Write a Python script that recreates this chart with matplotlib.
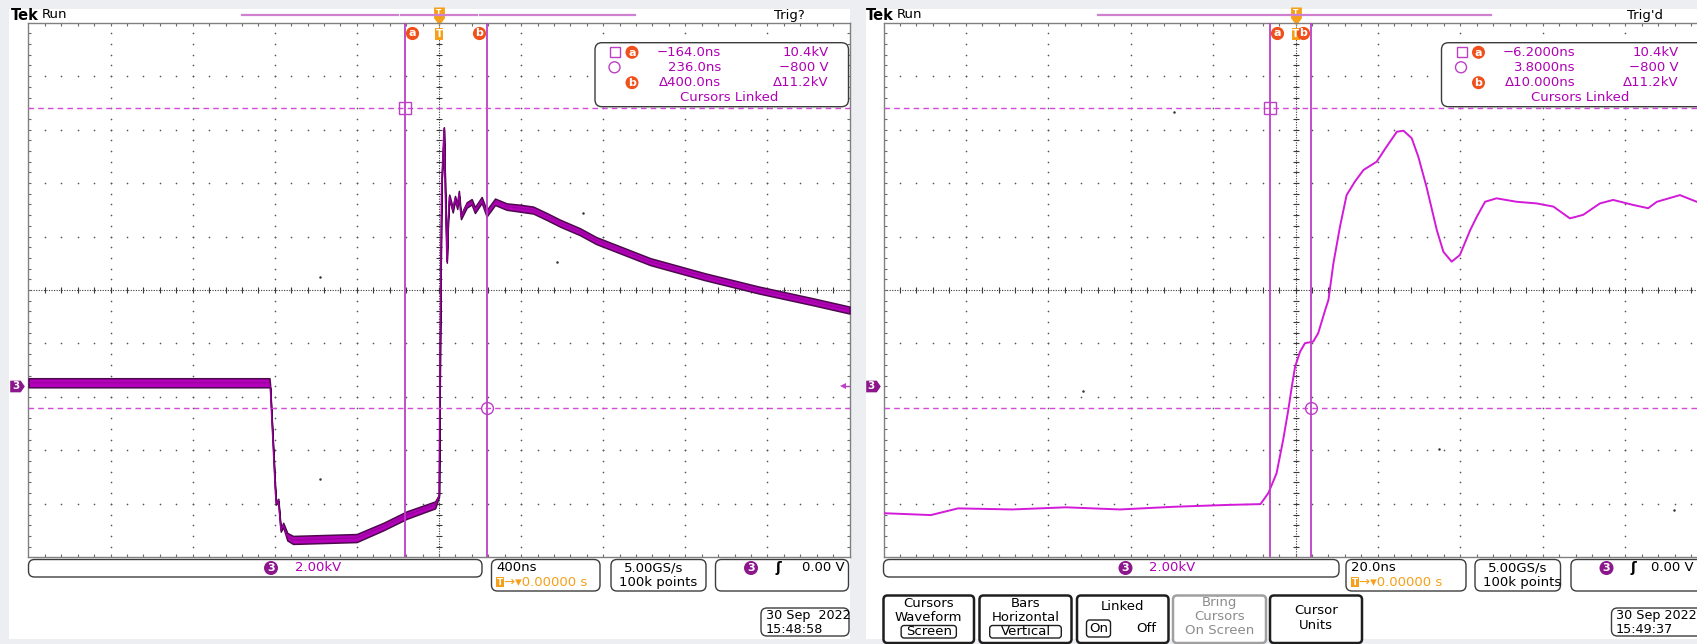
import numpy as np
import matplotlib
matplotlib.use("Agg")
import matplotlib.pyplot as plt
import matplotlib.transforms as mtransforms
from matplotlib.patches import Rectangle, FancyBboxPatch, Circle
from matplotlib.lines import Line2D

plt.rcParams["font.family"] = ["DejaVu Sans"]

# ---- values read off the two scope captures ----
# left capture, 400 ns/div, 2.00 kV/div
left_t_ns = [-2000, -826, -823, -810, -799, -794, -783, -771, -759, -739,
             -711, -401, -271, -157, -19, 0, 5, 12, 24, 30,
             38, 44, 50, 67, 78, 89, 97, 107, 135, 159,
             175, 208, 232, 273, 330, 395, 459, 525, 590, 687,
             766, 1030, 1294, 1558, 1822, 2000]
left_kv = [0.13, 0.13, 0.01, -2.01, -3.76, -4.38, -4.26, -5.38, -5.19, -5.63,
           -5.75, -5.68, -5.25, -4.82, -4.44, -4.1, 1.5, 7.5, 9.65, 7.3,
           4.66, 6.22, 7.09, 6.59, 7.03, 6.72, 7.22, 6.34, 6.78, 6.90,
           6.59, 6.97, 6.47, 6.90, 6.72, 6.66, 6.59, 6.35, 6.10, 5.78,
           5.45, 4.66, 4.10, 3.60, 3.16, 2.85]
# half width of the noise band around the trace
left_noise_kv = [0.17, 0.17, 0.05, 0.04, 0.04, 0.05, 0.05, 0.06, 0.08, 0.14,
                 0.15, 0.15, 0.14, 0.14, 0.13, 0.04, 0.03, 0.03, 0.04, 0.04,
                 0.04, 0.06, 0.08, 0.09, 0.09, 0.09, 0.09, 0.09, 0.1, 0.1,
                 0.11, 0.11, 0.12, 0.12, 0.12, 0.13, 0.13, 0.13, 0.13, 0.13,
                 0.13, 0.13, 0.13, 0.13, 0.13, 0.13]
left_cursor_ns = [-164.0, 236.0]
left_dots_ns = [-581, -581, 576, 700]
left_dots_kv = [4.08, -3.48, 4.66, 6.47]

# right capture, 20 ns/div, 2.00 kV/div
right_t_ns = [-100, -88.5, -81.9, -68.8, -55.7, -42.6, -29.5, -16.4, -8.5, -6.6,
              -4.6, -3.0, -1.75, -0.9, -0.1, 1.1, 2.3, 4.3, 5.5, 7.2,
              8.0, 9.2, 10.8, 12.4, 14.4, 16.5, 19.7, 22.1, 24.6, 26.2,
              28.2, 29.8, 31.8, 34.3, 35.9, 37.9, 39.9, 42.4, 44.0, 46.0,
              48.8, 53.7, 58.5, 62.6, 66.6, 69.8, 73.9, 77.1, 82.0, 85.6,
              87.7, 93.3, 97.4, 100]
right_kv = [-4.75, -4.82, -4.57, -4.61, -4.53, -4.61, -4.51, -4.44, -4.41, -4.0,
            -3.26, -2.01, -0.89, -0.02, 0.73, 1.29, 1.61, 1.67, 1.98, 2.85,
            3.23, 4.60, 5.97, 7.15, 7.65, 8.09, 8.40, 8.96, 9.52, 9.56,
            9.28, 8.59, 7.46, 5.84, 5.03, 4.66, 4.91, 5.84, 6.34, 6.90,
            7.03, 6.90, 6.84, 6.72, 6.28, 6.41, 6.84, 6.97, 6.78, 6.66,
            6.90, 7.15, 6.90, 6.85]
right_cursor_ns = [-6.2, 3.8]
right_dots_ns = [-29.5, -51.5, 34.8, 91.8]
right_dots_kv = [10.27, -0.17, -2.36, -4.63]

cursor_kv = [10.4, -0.8]
kv_per_div = 2.0
ground_div = -1.8   # ch3 ground marker, divisions below screen centre

left_readout = [["\u2212164.0ns", "10.4kV"], ["236.0ns", "\u2212800 V"],
                ["\u0394400.0ns", "\u039411.2kV"]]
right_readout = [["\u22126.2000ns", "10.4kV"], ["3.8000ns", "\u2212800 V"],
                 ["\u039410.000ns", "\u039411.2kV"]]

# ---- colours ----
BG = "#eceef1"
CUR = "#bd3fc6"
DASH = "#d24ad8"
TXT = "#b000b4"
TRACE = "#b400ba"
TRACE_EDGE = "#4c0a4c"
ORANGE = "#f6a01a"
BADGE = "#f0501a"
CH3 = "#8c168c"

W, H = 1697, 644
GY0, GY1 = 22.7, 557.3

fig = plt.figure(figsize=(W / 100, H / 100), dpi=100)
fig.patch.set_facecolor(BG)
# pixel coords, y pointing down
P = mtransforms.Affine2D().scale(1 / W, -1 / H).translate(0, 1) + fig.transFigure


def tx(x, y, s, size=9, color="black", ha="left", weight="normal", z=4):
    fig.text(x, y, s, transform=P, fontsize=size, color=color, ha=ha, va="center",
             fontweight=weight, zorder=z)


def rbox(x0, y0, x1, y1, ec="#3c3c3c", lw=1.0, r=5, fc="white", z=2):
    fig.add_artist(FancyBboxPatch((x0, y0), x1 - x0, y1 - y0,
                                  boxstyle=f"round,pad=0,rounding_size={r}",
                                  transform=P, fc=fc, ec=ec, lw=lw, zorder=z))


def disc(x, y, r, color, label, size=7.5):
    fig.add_artist(Circle((x, y), r, transform=P, fc=color, ec="none", zorder=3))
    tx(x, y + 0.5, label, size=size, color="white", ha="center", weight="bold", z=5)


def hline(x0, x1, y, color, lw):
    fig.add_artist(Line2D([x0, x1], [y, y], transform=P, color=color, lw=lw, zorder=2))


# white screen areas
fig.add_artist(Rectangle((9, 9), 841, 630, transform=P, fc="white", ec="none", zorder=-5))
fig.add_artist(Rectangle((866, 9), 840, 630, transform=P, fc="white", ec="none", zorder=-5))


def screen(gx0, gx1, ns_per_div, t, kv, cursors, dots_t, dots_kv, noise=None):
    ax = fig.add_axes([gx0 / W, 1 - GY1 / H, (gx1 - gx0) / W, (GY1 - GY0) / H])
    ax.set_facecolor("white")
    ax.set_xlim(-5 * ns_per_div, 5 * ns_per_div)
    centre = -ground_div * kv_per_div
    ax.set_ylim(centre - 5 * kv_per_div, centre + 5 * kv_per_div)
    ax.set_autoscale_on(False)
    ax.set_xticks([])
    ax.set_yticks([])
    for s in ax.spines.values():
        s.set_color("#808080")
        s.set_linewidth(1.0)

    A = ax.transAxes
    fine = np.arange(1, 50) / 50
    for k in (1, 2, 3, 4, 6, 7, 8, 9):
        ax.plot(np.full(49, k / 10), fine, ls="none", marker="o", ms=1.2, mew=0,
                color="#555555", transform=A)
        ax.plot(fine, np.full(49, k / 10), ls="none", marker="o", ms=1.2, mew=0,
                color="#555555", transform=A)
    ax.plot([0.5, 0.5], [0, 1], transform=A, color="#3a3a3a", lw=0.8, ls=(0, (1, 1.3)))
    ax.plot([0, 1], [0.5, 0.5], transform=A, color="#3a3a3a", lw=0.8, ls=(0, (1, 1.3)))
    ax.plot(np.full(49, 0.5), fine, ls="none", marker="_", ms=5, mew=0.8, color="#3a3a3a", transform=A)
    ax.plot(fine, np.full(49, 0.5), ls="none", marker="|", ms=5, mew=0.8, color="#3a3a3a", transform=A)
    for e in (0, 1):
        ax.plot(fine, np.full(49, e), ls="none", marker="|", ms=5, mew=0.8, color="#6a6a6a", transform=A)
        ax.plot(np.full(49, e), fine, ls="none", marker="_", ms=5, mew=0.8, color="#6a6a6a", transform=A)

    t = np.array(t, dtype=float)
    kv = np.array(kv, dtype=float)
    if noise is not None:
        n = np.array(noise)
        ax.fill_between(t, kv - n, kv + n, facecolor=TRACE, edgecolor=TRACE_EDGE, lw=1.1, zorder=3)
        ax.plot(t, kv, color="#9a009e", lw=0.9, zorder=4)
    else:
        ax.plot(t, kv, color="#d21ad8", lw=1.4, zorder=4)
    ax.plot(dots_t, dots_kv, ls="none", marker="o", ms=1.8, mew=0, color="#333333", zorder=4)

    for c in cursors:
        ax.axvline(c, color=CUR, lw=1.3, zorder=5)
    for v in cursor_kv:
        ax.axhline(v, color=DASH, lw=1.0, ls=(0, (4, 3)), zorder=5)
    ax.plot(cursors[0], cursor_kv[0], marker="s", ms=8, mfc="none", mec=CUR, mew=1.0, zorder=6)
    ax.plot(cursors[1], cursor_kv[1], marker="o", ms=8.5, mfc="none", mec=CUR, mew=1.0, zorder=6)

    # ground marker of channel 3 and trigger level arrow
    Y = ax.get_yaxis_transform()
    tag = [(-1, -0.8), (0.45, -0.8), (1, 0), (0.45, 0.8), (-1, 0.8)]
    ax.plot([-11 / (gx1 - gx0)], [0], marker=tag, ms=10.5, color=CH3, mew=0, transform=Y, clip_on=False)
    ax.text(-12.5 / (gx1 - gx0), 0, "3", transform=Y, color="white", fontsize=7.5,
            fontweight="bold", ha="center", va="center", clip_on=False)
    ax.plot([1 - 7 / (gx1 - gx0)], [0], marker="<", ms=4.5, color=CUR, mew=0, transform=Y)
    ax.plot([1 - 6 / (gx1 - gx0), 1], [0, 0], color=CUR, lw=1, transform=Y)

    # trigger position marks and cursor badges above the graticule
    B = mtransforms.blended_transform_factory(ax.transData, P)
    ax.plot([0], [16], marker=[(-0.6, 1), (0.6, 1), (0.6, -0.2), (0, -1), (-0.6, -0.2)], ms=13,
            color=ORANGE, mew=0, transform=B, clip_on=False)
    ax.text(0, 13.5, "T", transform=B, color="white", fontsize=5.5, fontweight="bold",
            ha="center", va="center", clip_on=False)
    ax.plot([0], [33.7], marker=[(-0.7, -1), (0.7, -1), (0.7, 1), (-0.7, 1)], ms=9,
            color=ORANGE, mew=0, transform=B, clip_on=False)
    ax.text(0, 34, "T", transform=B, color="white", fontsize=7.5, fontweight="bold",
            ha="center", va="center", clip_on=False)
    for c, dx, lab in ((cursors[0], 7, "a"), (cursors[1], -8.5, "b")):
        tr = mtransforms.offset_copy(B, fig=fig, x=dx, y=0, units="dots")
        ax.plot([c], [33.3], marker="o", ms=9.5, color=BADGE, mew=0, transform=tr, clip_on=False)
        ax.text(c, 33.3, lab, transform=tr, color="white", fontsize=8, fontweight="bold",
                ha="center", va="center", clip_on=False)
    return ax


def readout(bx0, bx1, rows, c1, c2, linked_x):
    rbox(bx0, 42.7, bx1, 106.7, r=7)
    fig.add_artist(Rectangle((bx0 + 15, 46.8), 10, 10, transform=P, fc="none", ec=CUR, lw=1, zorder=3))
    fig.add_artist(Circle((bx0 + 19.5, 67.3), 5.5, transform=P, fc="none", ec=CUR, lw=1, zorder=3))
    disc(bx0 + 37, 52.3, 6.5, BADGE, "a", size=8)
    disc(bx0 + 37, 82.7, 6.5, BADGE, "b", size=8)
    for (a, b), y in zip(rows, (52.3, 67.3, 82.7)):
        tx(c1, y, a, size=9.5, color=TXT, ha="right")
        tx(c2, y, b, size=9.5, color=TXT, ha="right")
    tx(linked_x, 97.7, "Cursors Linked", size=9.5, color=TXT, ha="center")


def bottom(x_ch, x_ch_badge, tb, tb_text, smp, trg, trg_right, date, date_text):
    rbox(x_ch[0], 559.5, x_ch[1], 577, r=6)
    disc(x_ch_badge, 568, 7, CH3, "3", size=8)
    tx(x_ch_badge + 24, 568, "2.00kV", size=9.5, color=TXT)
    rbox(tb[0], 559.5, tb[1], 591, r=6)
    tx(tb[0] + 4.5, 568, tb_text, size=9.5)
    fig.add_artist(Rectangle((tb[0] + 4.5, 577), 8, 10.5, transform=P, fc=ORANGE, ec="none", zorder=3))
    tx(tb[0] + 8.5, 582.5, "T", size=6.5, color="white", ha="center", weight="bold", z=5)
    tx(tb[0] + 13, 582.5, "\u2192\u25be0.00000 s", size=9.5, color=ORANGE)
    rbox(smp[0], 559.5, smp[1], 591, r=6)
    tx(smp[0] + 13, 568, "5.00GS/s", size=9.5)
    tx(smp[0] + 8, 582.5, "100k points", size=9.5)
    rbox(trg[0], 559.5, trg[1], 591, r=6)
    disc(trg[0] + 35.5, 568, 7, CH3, "3", size=8)
    tx(trg[0] + 62.5, 568, "\u0283", size=10, weight="bold", ha="center")
    tx(trg_right, 568, "0.00 V", size=9.5, ha="right")
    rbox(date[0], 608, date[1], 636, r=6)
    tx(date[0] + 4.5, 615.5, date_text[0], size=9.2)
    tx(date[0] + 4.5, 629.5, date_text[1], size=9.2)


# ---------------- left screen ----------------
axl = screen(28.5, 849.5, 400, left_t_ns, left_kv, left_cursor_ns,
             left_dots_ns, left_dots_kv, noise=left_noise_kv)
tx(11, 15, "Tek", size=10.5, weight="bold")
tx(42, 15, "Run", size=9.5)
tx(805, 15, "Trig?", size=9.5, ha="right")
for a, b in ((242, 398), (401, 477), (480, 635)):
    hline(a, b, 15, "#cf80d0", 1.6)
readout(595, 848.5, left_readout, 721, 829, 729)
bottom((28.5, 482), 271, (491.5, 600), "400ns", (611, 706), (715.5, 848.5), 845,
       (761, 849), ("30 Sep  2022", "15:48:58"))

# ---------------- right screen ----------------
axr = screen(883.5, 1707.5, 20, right_t_ns, right_kv, right_cursor_ns,
             right_dots_ns, right_dots_kv)
tx(866, 15, "Tek", size=10.5, weight="bold")
tx(897, 15, "Run", size=9.5)
tx(1663, 15, "Trig'd", size=9.5, ha="right")
hline(1097.5, 1491, 15, "#cf80d0", 1.6)
readout(1441.5, 1712, right_readout, 1575.5, 1679, 1580)
bottom((883.5, 1339), 1125.5, (1346, 1466), "20.0ns", (1475, 1560.5), (1571, 1712), 1694,
       (1611.5, 1712), ("30 Sep 2022", "15:49:37"))

# soft-key menu under the right screen
buttons = [
    ((883.5, 974), [("Cursors", 603.5), ("Waveform", 618)], ("Screen", 632), "black"),
    ((979.5, 1071.5), [("Bars", 603.5), ("Horizontal", 618)], ("Vertical", 632), "black"),
    ((1077, 1168.5), [("Linked", 607)], None, "black"),
    ((1173, 1266), [("Bring", 603), ("Cursors", 617), ("On Screen", 631)], None, "#8c8c8c"),
    ((1270, 1362), [("Cursor", 611), ("Units", 625.5)], None, "black"),
]
for (x0, x1), lines, boxed, col in buttons:
    ec = "#1e1e1e" if col == "black" else "#a0a0a0"
    rbox(x0, 595.5, x1, 643, ec=ec, lw=1.8, r=4)
    xc = (x0 + x1) / 2
    for s, y in lines:
        tx(xc, y, s, size=9.5, color=col, ha="center")
    if boxed:
        s, y = boxed
        w = 8.2 * len(s) + 6
        rbox(xc - w / 2, y - 6.5, xc + w / 2, y + 6, ec="#1e1e1e", lw=1.0, r=3, z=3)
        tx(xc, y, s, size=9.5, ha="center")
rbox(1086.5, 620, 1110.5, 637, ec="#1e1e1e", lw=1.0, r=3, z=3)
tx(1098.5, 628.5, "On", size=9.5, ha="center")
tx(1146, 628.5, "Off", size=9.5, ha="center")

fig.savefig("out.png", dpi=100, facecolor=BG)
